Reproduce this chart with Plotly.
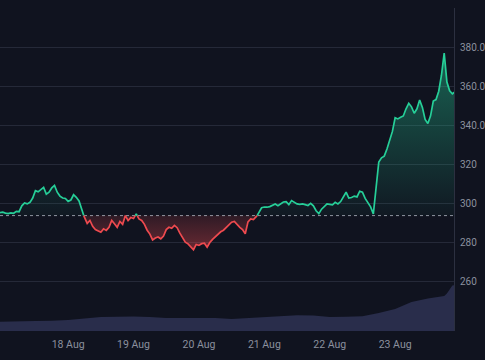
import numpy as np
import pandas as pd
import plotly.graph_objects as go

# ---------------- data ----------------
start_time = "2023-08-16 23:00"          # hourly prices start here
price = [
    295.5, 295.8, 295.3, 295.0, 295.4, 295.2, 296.2, 296.0, 299.0, 300.5,
    300.0, 300.8, 303.0, 306.8, 306.2, 307.3, 308.5, 305.0, 306.0, 308.2,
    309.5, 306.0, 304.0, 303.0, 302.8, 301.3, 302.0, 304.7, 303.4, 301.5,
    296.8, 293.0, 290.0, 291.5, 288.5, 286.8, 286.0, 285.5, 287.2, 286.4,
    288.0, 291.5, 289.8, 288.0, 291.0, 289.5, 294.0, 291.5, 293.0, 292.5,
    294.9, 292.3, 291.5, 289.5, 286.5, 284.5, 281.5, 282.5, 283.0, 282.1,
    283.5, 286.8, 288.0, 287.5, 289.0, 287.8, 285.0, 282.5, 280.4, 279.5,
    278.0, 276.5, 279.2, 278.7, 279.6, 279.8, 277.8, 280.2, 281.8, 283.2,
    284.8, 285.7, 286.5, 287.8, 289.2, 290.6, 291.0, 289.2, 288.0, 286.8,
    284.7, 290.8, 292.3, 292.0, 293.2, 295.5, 298.0, 298.4, 298.3, 298.6,
    299.3, 300.0, 299.1, 300.0, 301.0, 301.2, 299.6, 301.7, 301.0, 300.0,
    299.8, 300.0, 299.6, 299.2, 300.3, 299.0, 296.5, 295.0, 297.3, 298.8,
    300.0, 299.8, 299.5, 300.8, 300.0, 301.2, 304.0, 306.0, 303.0, 303.3,
    304.0, 303.6, 306.5, 306.0, 302.8, 300.8, 298.5, 294.9, 309.0, 321.5,
    323.6, 324.5, 328.2, 333.0, 337.2, 344.2, 343.6, 344.4, 345.1, 348.8,
    351.6, 349.8, 346.5, 348.8, 353.3, 349.5, 343.3, 341.2, 345.2, 352.8,
    353.5, 357.8, 366.0, 377.4, 362.5, 358.0, 356.5, 357.5,
]
baseline = 294.0

vol_times = [
    "2023-08-16 23:00", "2023-08-17 00:00", "2023-08-17 06:00", "2023-08-17 12:00",
    "2023-08-17 18:00", "2023-08-18 00:00", "2023-08-18 06:00", "2023-08-18 12:00",
    "2023-08-18 18:00", "2023-08-19 00:00", "2023-08-19 06:00", "2023-08-19 12:00",
    "2023-08-19 18:00", "2023-08-20 00:00", "2023-08-20 06:00", "2023-08-20 12:00",
    "2023-08-20 18:00", "2023-08-21 00:00", "2023-08-21 06:00", "2023-08-21 12:00",
    "2023-08-21 18:00", "2023-08-22 00:00", "2023-08-22 06:00", "2023-08-22 12:00",
    "2023-08-22 18:00", "2023-08-23 00:00", "2023-08-23 06:00", "2023-08-23 12:00",
    "2023-08-23 18:00", "2023-08-23 19:00", "2023-08-23 21:00", "2023-08-23 22:00",
]
volume = [
    29, 29, 29, 31, 32, 34, 39, 43, 44, 45, 43, 40, 40, 40, 40, 37,
    40, 43, 46, 49, 48, 43, 44, 46, 56, 68, 90, 101, 108, 116, 141, 142,
]

y_tick_vals = [260, 280, 300, 320, 340, 360, 380, 400]
y_tick_text = ["260", "280", "300", "320", "340.0", "360.0", "380.0", ""]

x_range = ["2023-08-16 23:00", "2023-08-23 21:36"]
y_range = [234.8, 400.5]

# ---------------- styling ----------------
BG = "#10131f"
GRID = "#252938"
GREEN = "#26cf98"
RED = "#ee4a4f"
VOLC = "#292d4b"
TXT = "#8b909e"
FONT = "Roboto"

# ---------------- split at baseline ----------------
t0 = pd.Timestamp(start_time)
p = np.array(price, dtype=float)
hrs = np.arange(len(p), dtype=float)
xs, ys = [hrs[0]], [p[0]]
for i in range(len(p) - 1):
    a, b = p[i], p[i + 1]
    if (a - baseline) * (b - baseline) < 0:
        f = (baseline - a) / (b - a)
        xs.append(hrs[i] + f)
        ys.append(baseline)
    xs.append(hrs[i + 1])
    ys.append(b)
xs = np.array(xs)
ys = np.array(ys)
times = t0 + pd.to_timedelta(xs, unit="h")
up_line = np.where(ys >= baseline, ys, np.nan)
dn_line = np.where(ys <= baseline, ys, np.nan)
up_fill = np.maximum(ys, baseline)
dn_fill = np.minimum(ys, baseline)
base_arr = np.full(len(ys), baseline)

fig = go.Figure()

# volume area (secondary axis)
fig.add_trace(go.Scatter(
    x=pd.to_datetime(vol_times), y=volume, yaxis="y2", mode="lines",
    line=dict(width=0, color=VOLC), fill="tozeroy", fillcolor=VOLC,
    hoverinfo="skip"))

# green fill
fig.add_trace(go.Scatter(x=times, y=base_arr, mode="lines", line=dict(width=0),
                         hoverinfo="skip"))
fig.add_trace(go.Scatter(
    x=times, y=up_fill, mode="lines", line=dict(width=0), fill="tonexty",
    fillgradient=dict(type="vertical", start=baseline, stop=max(price),
                      colorscale=[[0, "rgba(38,207,152,0.03)"],
                                  [1, "rgba(38,207,152,0.42)"]]),
    hoverinfo="skip"))
# red fill
fig.add_trace(go.Scatter(x=times, y=base_arr, mode="lines", line=dict(width=0),
                         hoverinfo="skip"))
fig.add_trace(go.Scatter(
    x=times, y=dn_fill, mode="lines", line=dict(width=0), fill="tonexty",
    fillgradient=dict(type="vertical", start=min(price), stop=baseline,
                      colorscale=[[0, "rgba(238,74,79,0.40)"],
                                  [1, "rgba(238,74,79,0.14)"]]),
    hoverinfo="skip"))

# baseline dotted
fig.add_trace(go.Scatter(
    x=x_range, y=[baseline, baseline], mode="lines",
    line=dict(color="rgba(200,204,215,0.7)", width=1, dash="dot"),
    hoverinfo="skip"))

# price lines
fig.add_trace(go.Scatter(x=times, y=up_line, mode="lines",
                         line=dict(color=GREEN, width=1.7), connectgaps=False))
fig.add_trace(go.Scatter(x=times, y=dn_line, mode="lines",
                         line=dict(color=RED, width=1.7), connectgaps=False))

fig.update_layout(
    width=485, height=360,
    margin=dict(l=0, r=31, t=8, b=29, autoexpand=False),
    paper_bgcolor=BG, plot_bgcolor=BG,
    showlegend=False,
    font=dict(family=FONT, size=10, color=TXT),
    xaxis=dict(
        type="date", range=x_range, dtick=86400000, tick0="2023-08-17",
        tickformat="%-d %b", showgrid=False, zeroline=False, showline=False,
        ticks="", tickfont=dict(size=10.5, color=TXT), automargin=False,
        ticklabelstandoff=5,
    ),
    yaxis=dict(
        side="right", range=y_range, tickvals=y_tick_vals, ticktext=y_tick_text,
        showgrid=True, gridcolor=GRID, gridwidth=1, zeroline=False,
        showline=True, linecolor="#2c3040", linewidth=1, ticks="",
        tickfont=dict(size=10, color=TXT), automargin=False,
        ticklabelstandoff=3,
    ),
    yaxis2=dict(
        overlaying="y", side="right", range=[0, 1000], showgrid=False,
        showticklabels=False, zeroline=False, showline=False, ticks="",
    ),
)

fig.write_html(
    "out.html",
    config={"displayModeBar": False},
    post_script="document.body.style.margin='0';document.body.style.background='#10131f';document.body.style.overflow='hidden';",
)
